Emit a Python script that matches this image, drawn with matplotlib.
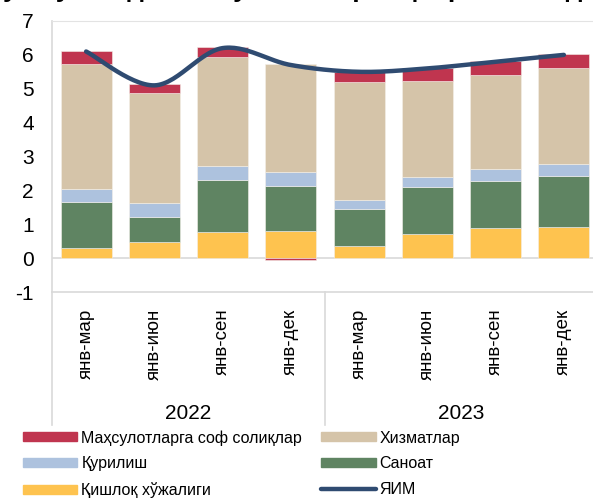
import numpy as np
import matplotlib.pyplot as plt
from matplotlib.patches import Patch
from matplotlib.lines import Line2D

plt.rcParams['font.family'] = ['Liberation Sans', 'DejaVu Sans']
plt.rcParams['axes.unicode_minus'] = False

# data (percentage points)
periods = ['янв-мар', 'янв-июн', 'янв-сен', 'янв-дек',
           'янв-мар', 'янв-июн', 'янв-сен', 'янв-дек']
years = ['2022', '2023']
agri = [0.30, 0.48, 0.78, 0.81, 0.35, 0.70, 0.90, 0.93]
industry = [1.35, 0.74, 1.52, 1.31, 1.10, 1.40, 1.37, 1.48]
construction = [0.38, 0.40, 0.42, 0.41, 0.26, 0.30, 0.37, 0.38]
services = [3.69, 3.25, 3.21, 3.20, 3.50, 2.84, 2.76, 2.82]
taxes = [0.38, 0.26, 0.31, -0.06, 0.28, 0.37, 0.42, 0.41]
gdp = [6.1, 5.1, 6.2, 5.7, 5.5, 5.6, 5.8, 6.0]

names = ['Маҳсулотларга соф солиқлар', 'Хизматлар', 'Қурилиш', 'Саноат',
         'Қишлоқ хўжалиги', 'ЯИМ']
c_tax = '#C0354F'
c_serv = '#D5C4A9'
c_cons = '#ADC2DE'
c_ind = '#5F8462'
c_agri = '#FEC34F'
c_gdp = '#2F4B71'

fig = plt.figure(figsize=(5.93, 5.0), dpi=100)
ax = fig.add_axes([52 / 593, 1 - 292 / 500, 546 / 593, 271 / 500])

x = np.arange(len(periods))
w = 0.75
pos = np.zeros(len(x))
neg = np.zeros(len(x))
for vals, col in [(agri, c_agri), (industry, c_ind), (construction, c_cons),
                  (services, c_serv), (taxes, c_tax)]:
    v = np.array(vals)
    bottom = np.where(v >= 0, pos, neg)
    ax.bar(x, v, w, bottom=bottom, color=col, edgecolor='#f4f0ea', linewidth=0.4, zorder=2)
    pos = np.where(v >= 0, pos + v, pos)
    neg = np.where(v < 0, neg + v, neg)

# smoothed line like a spreadsheet smooth curve
g = np.array(gdp, dtype=float)
xs, ys = [], []
n = len(g)
for i in range(n - 1):
    p0 = np.array([x[max(i - 1, 0)], g[max(i - 1, 0)]])
    p1 = np.array([x[i], g[i]])
    p2 = np.array([x[i + 1], g[i + 1]])
    p3 = np.array([x[min(i + 2, n - 1)], g[min(i + 2, n - 1)]])
    c1 = p1 + (p2 - p0) / 6
    c2 = p2 - (p3 - p1) / 6
    t = np.linspace(0, 1, 30)[:, None]
    pts = (1 - t) ** 3 * p1 + 3 * (1 - t) ** 2 * t * c1 + 3 * (1 - t) * t ** 2 * c2 + t ** 3 * p2
    xs.extend(pts[:, 0])
    ys.extend(pts[:, 1])
ax.plot(xs, ys, color=c_gdp, lw=3.2, solid_capstyle='round', zorder=3)

ax.axhline(0, color='#d9d9d9', lw=1.2, zorder=1)
ax.set_xlim(-0.5, 7.5)
ax.set_ylim(-1, 7)
ax.set_yticks(range(-1, 8))
ax.tick_params(axis='y', length=0, labelsize=15, pad=13)
ax.set_xticks(x)
ax.set_xticklabels(periods, rotation=90, fontsize=13.5)
ax.tick_params(axis='x', length=0, pad=12)
for s in ['left', 'bottom']:
    ax.spines[s].set_color('#d9d9d9')
    ax.spines[s].set_linewidth(1.2)
ax.spines['top'].set_color('#e3e3e3')
ax.spines['right'].set_visible(False)

# group separators and year labels
tr = ax.get_xaxis_transform()
for xv in [-0.5, 3.5]:
    ax.plot([xv, xv], [0, -0.49], color='#d9d9d9', lw=1.2, transform=tr, clip_on=False)
for k, yr in enumerate(years):
    ax.text(1.5 + 4 * k, -0.447, yr, transform=tr, ha='center', va='center', fontsize=15)

# title, mostly cut off at the top edge
fig.text(0.005, 1.006, 'ушбу йилда ЯИМ ўсиши тармоқлар кесимида', fontsize=19,
         fontweight='bold', va='baseline', ha='left')

handles = [Patch(color=c_tax), Patch(color=c_cons), Patch(color=c_agri),
           Patch(color=c_serv), Patch(color=c_ind),
           Line2D([0], [0], color=c_gdp, lw=3.2, solid_capstyle='round')]
labels = [names[0], names[2], names[4], names[1], names[3], names[5]]
fig.legend(handles, labels, ncol=2, loc='upper left', bbox_to_anchor=(23 / 593, 1 - 430 / 500),
           frameon=False, fontsize=11.5, handlelength=3.4, handleheight=0.5,
           handletextpad=0.25, labelspacing=0.68, columnspacing=1.2, borderpad=0,
           borderaxespad=0)

fig.savefig('out.png', dpi=100)
